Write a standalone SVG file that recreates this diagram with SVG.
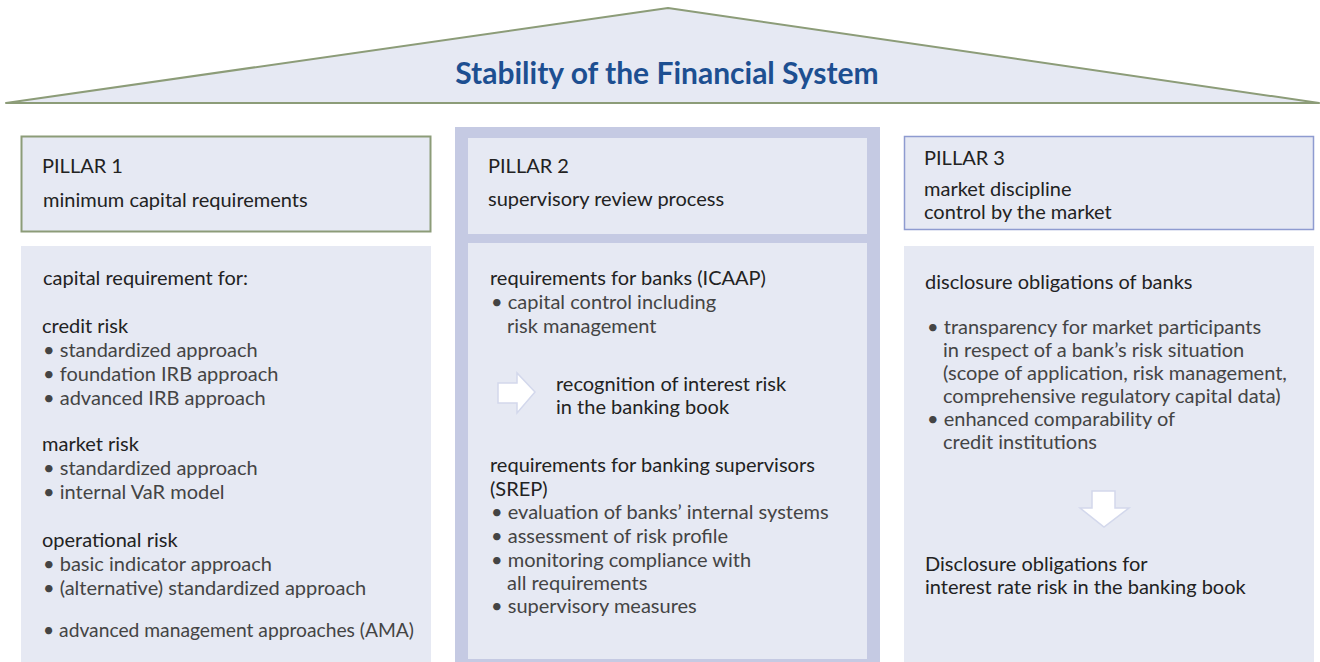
<svg xmlns="http://www.w3.org/2000/svg" width="1320" height="662" viewBox="0 0 1320 662">
<style>
.t{font-family:Lato,"Liberation Sans",sans-serif;font-size:20px;fill:#222}
.b{font-family:Lato,"Liberation Sans",sans-serif;font-size:20px;fill:#444}
.box{fill:#e6e9f3}
</style>
<rect width="1320" height="662" fill="#ffffff"/>
<g id="roof">
<polygon points="6,103 668,8 1319,103" fill="#e6e9f3" stroke="#8c9c78" stroke-width="2" stroke-linejoin="round"/>
<text x="667" y="84" text-anchor="middle" font-family="Lato,'Liberation Sans',sans-serif" font-size="30" font-weight="bold" fill="#1d4f91">Stability of the Financial System</text>
</g>
<g id="pillar1">
<rect x="21.5" y="136.5" width="409" height="95" class="box" stroke="#8c9c78" stroke-width="2"/>
<text class="t" x="42" y="173">PILLAR 1</text>
<text class="t" x="43" y="207">minimum capital requirements</text>
<rect x="21" y="246" width="410" height="416" class="box"/>
<text class="t" x="43" y="285">capital requirement for:</text>
<text class="t" x="42" y="333">credit risk</text>
<text class="b" x="43" y="357">• standardized approach</text>
<text class="b" x="43" y="381">• foundation IRB approach</text>
<text class="b" x="43" y="405">• advanced IRB approach</text>
<text class="t" x="42" y="451">market risk</text>
<text class="b" x="43" y="475">• standardized approach</text>
<text class="b" x="43" y="499">• internal VaR model</text>
<text class="t" x="42" y="547">operational risk</text>
<text class="b" x="43" y="571">• basic indicator approach</text>
<text class="b" x="43" y="595">• (alternative) standardized approach</text>
<text class="b" x="43" y="637" textLength="371" lengthAdjust="spacingAndGlyphs">• advanced management approaches (AMA)</text>
</g>
<g id="pillar2">
<rect x="455" y="127" width="425" height="535" fill="#c5cae3"/>
<rect x="468" y="138" width="399" height="96" class="box"/>
<text class="t" x="488" y="173">PILLAR 2</text>
<text class="t" x="488" y="206">supervisory review process</text>
<rect x="468" y="243" width="399" height="416" class="box"/>
<text class="t" x="490" y="285">requirements for banks (ICAAP)</text>
<text class="b" x="491" y="309">• capital control including</text>
<text class="b" x="507" y="333">risk management</text>
<text class="t" x="556" y="391">recognition of interest risk</text>
<text class="t" x="556" y="414">in the banking book</text>
<text class="t" x="490" y="472">requirements for banking supervisors</text>
<text class="t" x="490" y="496">(SREP)</text>
<text class="b" x="491" y="519">• evaluation of banks’ internal systems</text>
<text class="b" x="491" y="543">• assessment of risk profile</text>
<text class="b" x="491" y="567">• monitoring compliance with</text>
<text class="b" x="507" y="590">all requirements</text>
<text class="b" x="491" y="613">• supervisory measures</text>
</g>
<g id="pillar3">
<rect x="904.5" y="136.5" width="409" height="93" class="box" stroke="#8e9bd0" stroke-width="1.5"/>
<text class="t" x="924" y="165">PILLAR 3</text>
<text class="t" x="924" y="196">market discipline</text>
<text class="t" x="924" y="219">control by the market</text>
<rect x="904" y="246" width="410" height="416" class="box"/>
<text class="t" x="925" y="289">disclosure obligations of banks</text>
<text class="b" x="927" y="334">• transparency for market participants</text>
<text class="b" x="943" y="357">in respect of a bank’s risk situation</text>
<text class="b" x="943" y="380">(scope of application, risk management,</text>
<text class="b" x="943" y="403">comprehensive regulatory capital data)</text>
<text class="b" x="927" y="426">• enhanced comparability of</text>
<text class="b" x="943" y="449">credit institutions</text>
<text class="t" x="925" y="571">Disclosure obligations for</text>
<text class="t" x="925" y="594">interest rate risk in the banking book</text>
</g>
<g id="connectors">
<polygon points="498,383 517,383 517,373 535,392 517,413 517,403 498,403" fill="#ffffff" stroke="#d3d8ec" stroke-width="1.5"/>
<polygon points="1092,491 1115,491 1115,508 1129,508 1104,527 1080,508 1092,508" fill="#ffffff" stroke="#d3d8ec" stroke-width="1.5"/>
</g>
</svg>
